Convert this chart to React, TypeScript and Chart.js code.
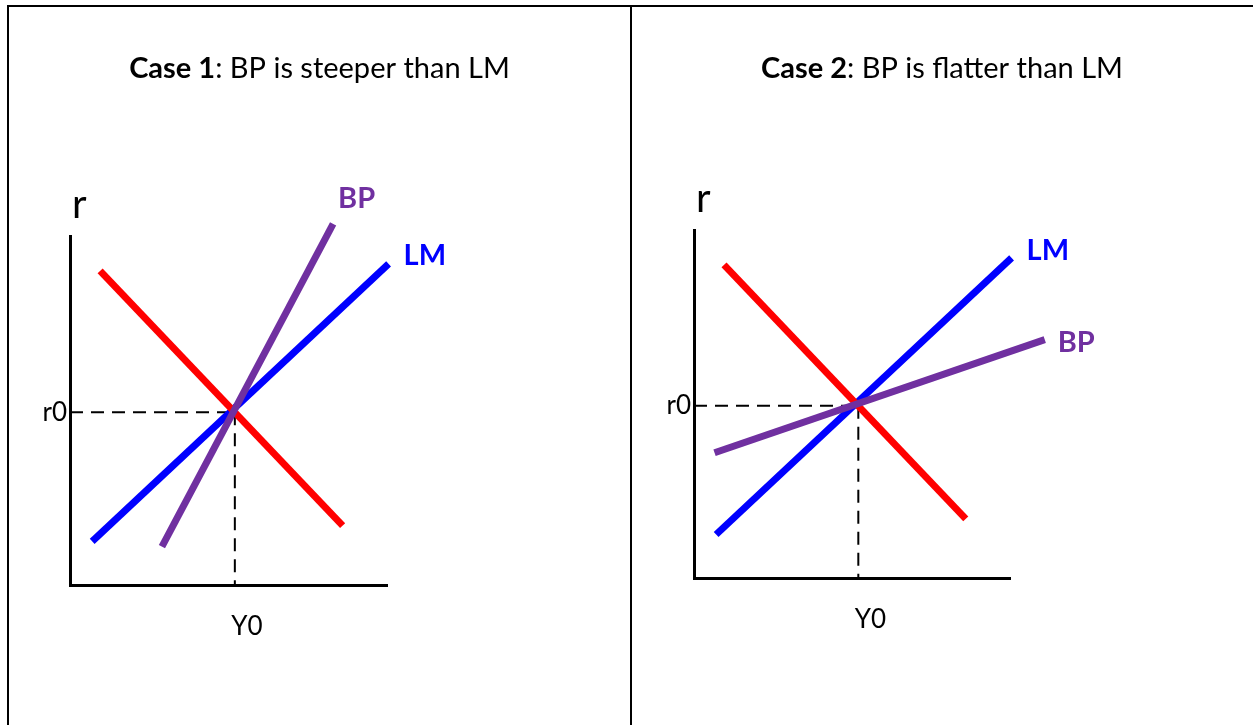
import { useEffect, useRef } from "react";
import { Chart, registerables } from "chart.js";

Chart.register(...registerables);

const FONT = "Lato, 'Noto Sans', sans-serif";

// Titles (bold part, regular part)
const title1 = ["Case 1", ": BP is steeper than LM"];
const title2 = ["Case 2", ": BP is flatter than LM"];

// Axis names and tick labels
const axisName = "r";
const xTickLabels = ["Y0"];
const yTickLabels = ["r0"];

// Equilibrium values
const Y0 = 5.2;
const r0 = 4.95;

// IS curve (red), same in both cases
const isX = [0.95, 8.6];
const isY = [9.0, 1.7];

// LM curve (blue), same in both cases
const lmX = [0.7, 10.05];
const lmY = [1.25, 9.2];

// BP curve, case 1 (steep)
const bp1X = [2.9, 8.3];
const bp1Y = [1.1, 10.35];

// BP curve, case 2 (flat)
const bp2X = [0.65, 11.1];
const bp2Y = [3.6, 6.85];

const pts = (xs: number[], ys: number[]) => xs.map((x, i) => ({ x, y: ys[i] }));

type PanelOpts = {
  title: string[];
  bpX: number[];
  bpY: number[];
  bpLabelDx: number;
  bpLabelDy: number;
  lmLabelDx: number;
  lmLabelDy: number;
  padding: { left: number; top: number; right: number; bottom: number };
  titleCx: number;
};

function makeChart(canvas: HTMLCanvasElement, o: PanelOpts) {
  const annot = {
    id: "annot",
    afterDatasetsDraw(chart: any) {
      const ctx = chart.ctx as CanvasRenderingContext2D;
      const { left, top } = chart.chartArea;
      ctx.save();
      ctx.textAlign = "left";
      ctx.textBaseline = "alphabetic";
      chart.data.datasets.forEach((ds: any, i: number) => {
        if (!ds.endLabel) return;
        const meta = chart.getDatasetMeta(i);
        const p = meta.data[meta.data.length - 1];
        ctx.font = `bold 29px ${FONT}`;
        ctx.fillStyle = ds.borderColor;
        ctx.fillText(ds.endLabel, p.x + ds.labelDx, p.y + ds.labelDy);
      });
      ctx.fillStyle = "#000";
      ctx.font = `40px ${FONT}`;
      ctx.fillText(axisName, left + 2, top - 18);
      // title
      ctx.font = `bold 29px ${FONT}`;
      const wb = ctx.measureText(o.title[0]).width;
      ctx.font = `29px ${FONT}`;
      const wr = ctx.measureText(o.title[1]).width;
      const sx = o.titleCx - (wb + wr) / 2;
      ctx.font = `bold 29px ${FONT}`;
      ctx.fillText(o.title[0], sx, 78);
      ctx.font = `29px ${FONT}`;
      ctx.fillText(o.title[1], sx + wb, 78);
      ctx.restore();
    },
  };

  const lineDs = (label: string, data: any[], color: string, extra: any = {}) => ({
    label,
    data,
    showLine: true,
    borderColor: color,
    backgroundColor: color,
    borderWidth: 7,
    borderCapStyle: "butt",
    pointRadius: 0,
    fill: false,
    clip: false,
    ...extra,
  });

  return new Chart(canvas, {
    type: "scatter",
    data: {
      datasets: [
        lineDs("BP", pts(o.bpX, o.bpY), "#7030A0", {
          endLabel: "BP",
          labelDx: o.bpLabelDx,
          labelDy: o.bpLabelDy,
        }),
        lineDs("IS", pts(isX, isY), "#FF0000"),
        lineDs("LM", pts(lmX, lmY), "#0000FF", {
          endLabel: "LM",
          labelDx: o.lmLabelDx,
          labelDy: o.lmLabelDy,
        }),
        lineDs("r0 guide", [{ x: 0, y: r0 }, { x: Y0, y: r0 }], "#000", {
          borderWidth: 2,
          borderDash: [13, 8],
        }),
        lineDs("Y0 guide", [{ x: Y0, y: r0 }, { x: Y0, y: 0 }], "#000", {
          borderWidth: 2,
          borderDash: [13, 8],
        }),
      ] as any,
    },
    options: {
      responsive: false,
      animation: false,
      events: [],
      layout: { padding: o.padding },
      plugins: { legend: { display: false }, tooltip: { enabled: false }, title: { display: false } },
      scales: {
        x: {
          type: "linear",
          min: 0,
          max: 10,
          grid: { display: false, drawTicks: false },
          border: { display: true, color: "#000", width: 3 },
          afterBuildTicks: (s: any) => {
            s.ticks = [{ value: Y0 }];
          },
          afterFit: (s: any) => {
            s.height = 70;
          },
          ticks: {
            color: "#000",
            font: { family: FONT, size: 26 },
            padding: 26,
            labelOffset: 12,
            maxRotation: 0,
            callback: (_v: any, i: number) => xTickLabels[i],
          },
        },
        y: {
          type: "linear",
          min: 0,
          max: 10,
          grid: { display: false, drawTicks: false },
          border: { display: true, color: "#000", width: 3 },
          afterBuildTicks: (s: any) => {
            s.ticks = [{ value: r0 }];
          },
          afterFit: (s: any) => {
            s.width = 50;
          },
          ticks: {
            color: "#000",
            font: { family: FONT, size: 26 },
            padding: 3,
            callback: (_v: any, i: number) => yTickLabels[i],
          },
        },
      },
    } as any,
    plugins: [annot as any],
  });
}

export default function App() {
  const c1 = useRef<HTMLCanvasElement>(null);
  const c2 = useRef<HTMLCanvasElement>(null);

  useEffect(() => {
    const a = makeChart(c1.current!, {
      title: title1,
      bpX: bp1X,
      bpY: bp1Y,
      bpLabelDx: 5,
      bpLabelDy: -16,
      lmLabelDx: 15,
      lmLabelDy: 1,
      padding: { left: 11, top: 236, right: 243, bottom: 70 },
      titleCx: 310.5,
    });
    const b = makeChart(c2.current!, {
      title: title2,
      bpX: bp2X,
      bpY: bp2Y,
      bpLabelDx: 13,
      bpLabelDy: 12,
      lmLabelDx: 15,
      lmLabelDy: 2,
      padding: { left: 12, top: 230, right: 243, bottom: 77 },
      titleCx: 310,
    });
    return () => {
      a.destroy();
      b.destroy();
    };
  }, []);

  return (
    <div style={{ position: "fixed", inset: 0, overflow: "hidden", background: "#fff" }}>
      <canvas ref={c1} width={621} height={725} style={{ position: "absolute", left: 9, top: 0 }} />
      <canvas ref={c2} width={621} height={725} style={{ position: "absolute", left: 632, top: 0 }} />
      <div style={{ position: "absolute", left: 7, top: 5, right: 0, height: 2, background: "#000" }} />
      <div style={{ position: "absolute", left: 7, top: 5, width: 2, bottom: 0, background: "#000" }} />
      <div style={{ position: "absolute", left: 630, top: 5, width: 2, bottom: 0, background: "#000" }} />
    </div>
  );
}
